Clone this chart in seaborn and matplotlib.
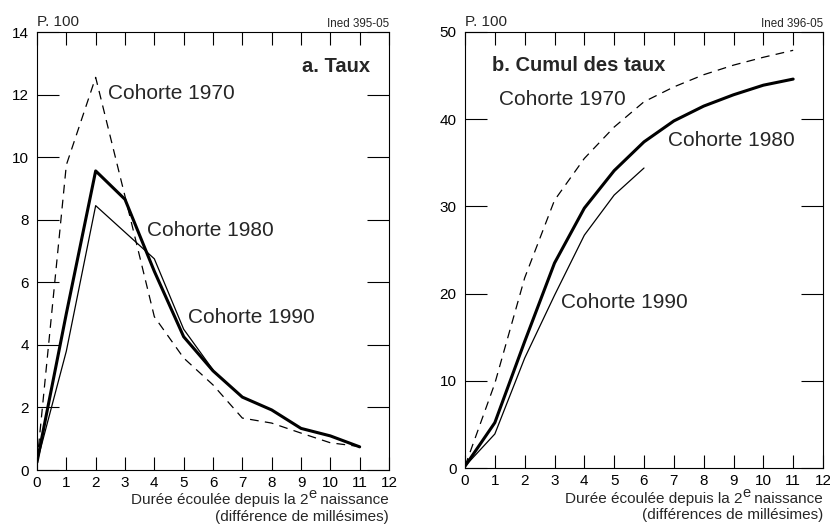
import matplotlib
matplotlib.use("Agg")
import matplotlib.pyplot as plt
import seaborn as sns
import pandas as pd

# ---- data -------------------------------------------------------------
years = list(range(12))
taux_1970 = [0.25, 9.75, 12.55, 8.75, 4.9, 3.58, 2.72, 1.66, 1.5, 1.18, 0.87, 0.75]
taux_1980 = [0.25, 5.0, 9.56, 8.65, 6.35, 4.26, 3.17, 2.33, 1.92, 1.33, 1.09, 0.74]
taux_1990 = [0.25, 3.8, 8.45, 7.6, 6.75, 4.5, 3.2]
cumul_1970 = [0.2, 9.7, 21.8, 30.7, 35.5, 39.1, 42.0, 43.7, 45.1, 46.2, 47.1, 47.9]
cumul_1980 = [0.2, 5.2, 14.5, 23.5, 29.8, 34.1, 37.4, 39.8, 41.5, 42.8, 43.9, 44.6]
cumul_1990 = [0.2, 3.9, 12.6, 19.8, 26.7, 31.3, 34.4]
x_ticklabels = [str(i) for i in range(13)]
taux_yticks = [0, 2, 4, 6, 8, 10, 12, 14]
cumul_yticks = [0, 10, 20, 30, 40, 50]

# ---- style ------------------------------------------------------------
sns.set_theme(style="white")
plt.rcParams["font.family"] = ["Liberation Sans", "DejaVu Sans"]

fig = plt.figure(figsize=(8.30, 5.24), dpi=100)
W, H = 830, 524
axA = fig.add_axes([37 / W, 1 - 470 / H, (389 - 37) / W, (470 - 32) / H])
axB = fig.add_axes([465 / W, 1 - 468 / H, (823 - 465) / W, (468 - 32) / H])

def draw(ax, s70, s80, s90):
    sns.lineplot(x=years[:len(s70)], y=s70, ax=ax, color="black", lw=0.9,
                 linestyle=(0, (7, 5)))
    sns.lineplot(x=years[:len(s90)], y=s90, ax=ax, color="black", lw=0.9)
    sns.lineplot(x=years[:len(s80)], y=s80, ax=ax, color="black", lw=2.2)

draw(axA, taux_1970, taux_1980, taux_1990)
draw(axB, cumul_1970, cumul_1980, cumul_1990)

for ax, yt in ((axA, taux_yticks), (axB, cumul_yticks)):
    ax.set_xlim(0, 12)
    ax.set_ylim(yt[0], yt[-1])
    ax.set_xticks(range(13))
    ax.set_xticklabels(x_ticklabels)
    ax.set_yticks(yt)
    ax.set_yticklabels([str(v) for v in yt])
    for sp in ax.spines.values():
        sp.set_visible(True)
        sp.set_color("black")
        sp.set_linewidth(0.8)
    ax.tick_params(axis="x", direction="in", length=9.5, width=0.8,
                   top=True, bottom=True, labelsize=11, pad=4, colors="black")
    ax.tick_params(axis="y", direction="in", length=16, width=0.8,
                   left=True, right=True, labelsize=11, pad=6, colors="black")
    ax.set_xlabel("")
    ax.set_ylabel("")
    ax.grid(False)
    ax.text(0, 1.013, "P. 100", transform=ax.transAxes, ha="left",
            va="baseline", fontsize=11)

axA.text(1, 1.012, "Ined 395-05", transform=axA.transAxes, ha="right",
         va="baseline", fontsize=8.4)
axB.text(1, 1.012, "Ined 396-05", transform=axB.transAxes, ha="right",
         va="baseline", fontsize=8.4)

# panel titles and labels
axA.text(11.37, 12.9, "a. Taux", ha="right", va="center", fontsize=14.5,
         fontweight="bold")
axA.text(2.42, 12.04, "Cohorte 1970", ha="left", va="center", fontsize=15)
axA.text(3.75, 7.67, "Cohorte 1980", ha="left", va="center", fontsize=15)
axA.text(5.16, 4.86, "Cohorte 1990", ha="left", va="center", fontsize=15)

axB.text(0.9, 46.2, "b. Cumul des taux", ha="left", va="center",
         fontsize=14.5, fontweight="bold")
axB.text(1.14, 42.3, "Cohorte 1970", ha="left", va="center", fontsize=15)
axB.text(6.8, 37.6, "Cohorte 1980", ha="left", va="center", fontsize=15)
axB.text(3.22, 19.0, "Cohorte 1990", ha="left", va="center", fontsize=15)

# x-axis titles (with a full-size raised "e" as in the original)
def xtitle(ax, y1, y2, line2):
    base = ax.text(1, y1, " naissance", transform=ax.transAxes, ha="right",
                   va="bottom", fontsize=11)
    sup = ax.annotate("e", xy=(0, 0), xycoords=base, xytext=(0, 4.2),
                      textcoords="offset points", ha="right", va="bottom",
                      fontsize=10.5)
    ax.annotate("Durée écoulée depuis la 2", xy=(0, 0), xycoords=(sup, base),
                ha="right", va="bottom", fontsize=11)
    ax.text(1, y2, line2, transform=ax.transAxes, ha="right", va="center",
            fontsize=11)

xtitle(axA, -37 / 438, -47 / 438, "(différence de millésimes)")
xtitle(axB, -38 / 436, -47 / 436, "(différences de millésimes)")

fig.savefig("out.png", dpi=100)
